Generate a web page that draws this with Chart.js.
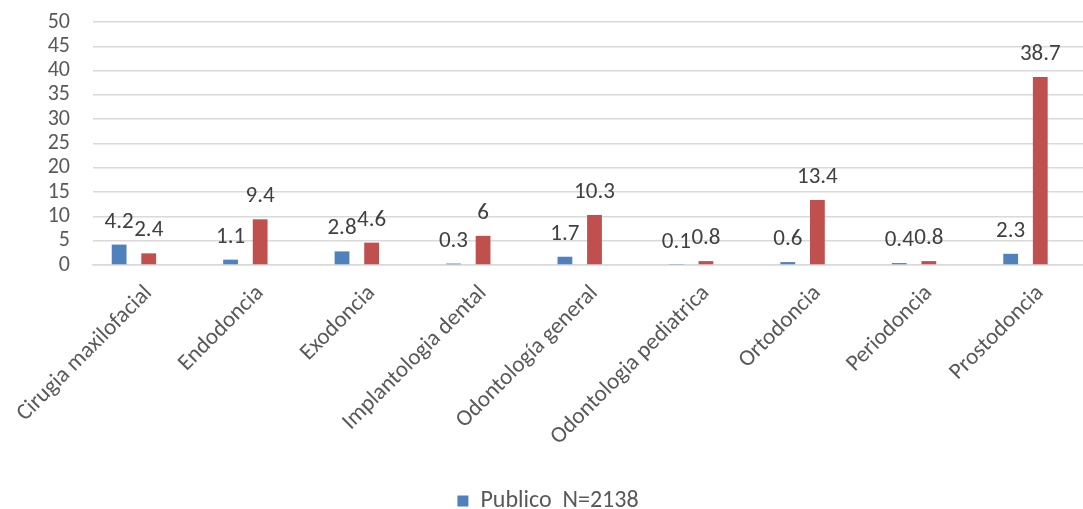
<!DOCTYPE html>
<html>
<head>
<meta charset="utf-8">
<script src="https://cdn.jsdelivr.net/npm/chart.js@4/dist/chart.umd.min.js"></script>
<style>
  html, body { margin: 0; padding: 0; background: #fff; overflow: hidden; }
  #wrap { width: 1125px; height: 509px; position: relative; }
</style>
</head>
<body>
<div id="wrap"><canvas id="c"></canvas></div>
<script>
// Categories (specialties) and percentages per group
const categories = [
  'Cirugia maxilofacial', 'Endodoncia', 'Exodoncia', 'Implantologia dental',
  'Odontología general', 'Odontologia pediatrica', 'Ortodoncia', 'Periodoncia', 'Prostodoncia'
];
const publico = [4.2, 1.1, 2.8, 0.3, 1.7, 0.1, 0.6, 0.4, 2.3];
const privado = [2.4, 9.4, 4.6, 6, 10.3, 0.8, 13.4, 0.8, 38.7];
const yTicks = [0, 5, 10, 15, 20, 25, 30, 35, 40, 45, 50];

const FONT = "Carlito, Lato, 'Open Sans', sans-serif";
const BLUE = '#4F81BD';
const RED = '#C0504D';
const empty = categories.map(() => null);

// Value labels above the two visible series
const valueLabels = {
  id: 'valueLabels',
  afterDatasetsDraw(chart) {
    const ctx = chart.ctx;
    ctx.save();
    ctx.font = '23px ' + FONT;
    ctx.fillStyle = '#404040';
    ctx.textAlign = 'center';
    ctx.textBaseline = 'alphabetic';
    [0, 2].forEach(di => {
      const meta = chart.getDatasetMeta(di);
      const data = chart.data.datasets[di].data;
      meta.data.forEach((bar, i) => {
        if (data[i] == null) return;
        ctx.fillText(String(data[i]), bar.x, bar.y - 17);
      });
    });
    ctx.restore();
  }
};

new Chart(document.getElementById('c'), {
  type: 'bar',
  data: {
    labels: categories,
    datasets: [
      { label: 'Publico  N=2138', data: publico, backgroundColor: BLUE },
      { label: '', data: empty, backgroundColor: 'rgba(0,0,0,0)' },
      { label: 'Privado', data: privado, backgroundColor: RED },
      { label: '', data: empty, backgroundColor: 'rgba(0,0,0,0)' },
      { label: '', data: empty, backgroundColor: 'rgba(0,0,0,0)' }
    ]
  },
  options: {
    responsive: true,
    maintainAspectRatio: false,
    animation: false,
    datasets: { bar: { categoryPercentage: 0.664, barPercentage: 1.0 } },
    layout: { padding: { left: 0, right: 29, top: 22, bottom: -14 } },
    scales: {
      x: {
        grid: { display: false, drawTicks: false },
        border: { display: true, color: '#d9d9d9', width: 1.5 },
        afterFit(scale) {
          scale.height = 220;
          scale.paddingLeft = 0; scale.paddingRight = 0;
          scale.paddingTop = 0; scale.paddingBottom = 0;
        },
        ticks: {
          color: '#595959',
          font: { family: FONT, size: 23 },
          maxRotation: 45, minRotation: 45,
          padding: 15,
          autoSkip: false
        }
      },
      y: {
        min: 0, max: 50,
        afterBuildTicks(scale) { scale.ticks = yTicks.map(v => ({ value: v })); },
        afterFit(scale) {
          scale.width = 93;
          scale.paddingTop = 0; scale.paddingBottom = 0;
          scale.paddingLeft = 0; scale.paddingRight = 0;
        },
        grid: { color: '#d9d9d9', lineWidth: 1.5, drawTicks: false },
        border: { display: false },
        ticks: {
          color: '#595959',
          font: { family: FONT, size: 22 },
          padding: 23,
          autoSkip: false
        }
      }
    },
    plugins: {
      legend: {
        position: 'bottom',
        labels: {
          filter: item => item.datasetIndex === 0,
          color: '#595959',
          font: { family: FONT, size: 24 },
          boxWidth: 11, boxHeight: 11,
          padding: 4
        }
      },
      tooltip: { enabled: false }
    }
  },
  plugins: [valueLabels]
});
</script>
</body>
</html>
